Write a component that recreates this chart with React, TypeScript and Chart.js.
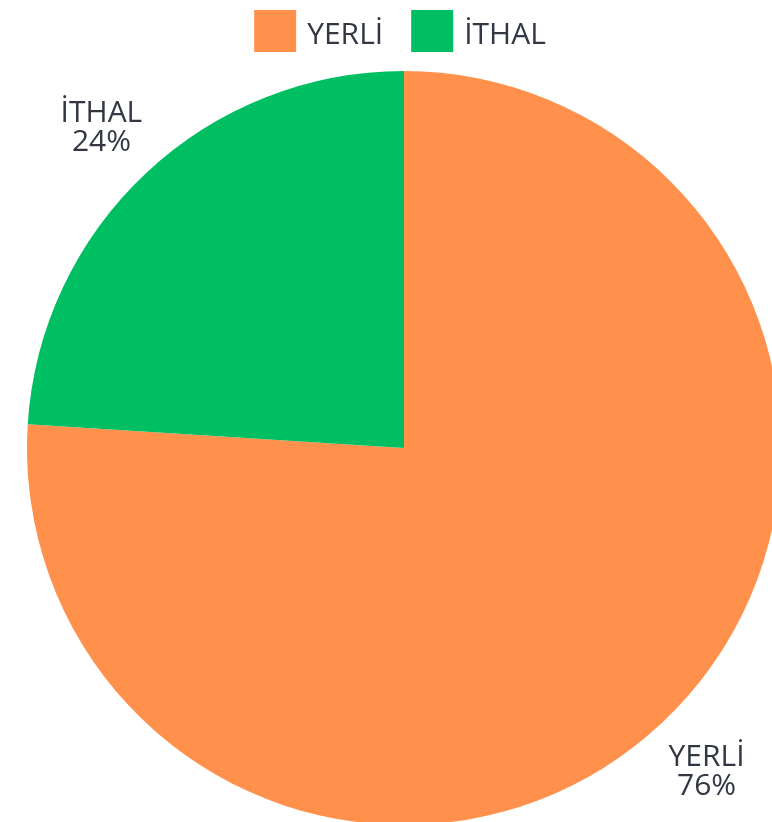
import React, { useEffect, useRef } from "react";
import { Chart, registerables } from "chart.js";

Chart.register(...registerables);

const categories: string[] = ["YERLİ", "İTHAL"];
const shareValues: number[] = [76, 24];
const sliceColors: string[] = ["#FF914D", "#00BF63"];

const TEXT_COLOR = "#323743";
const FONT_FAMILY = "'Open Sans', 'Noto Sans', sans-serif";

const legendPlugin = {
  id: "customLegend",
  afterDraw(chart: any) {
    const ctx = chart.ctx as CanvasRenderingContext2D;
    const fontSize = 30;
    const box = 42;
    const boxGap = 11;
    const itemGap = 28;
    const top = 10;
    ctx.save();
    ctx.font = `${fontSize}px ${FONT_FAMILY}`;
    const widths = categories.map((c) => ctx.measureText(c).width);
    let total = 0;
    widths.forEach((w, i) => {
      total += box + boxGap + w + (i < widths.length - 1 ? itemGap : 0);
    });
    const centerX = (chart.chartArea.left + chart.chartArea.right) / 2 - 4;
    let x = centerX - total / 2;
    categories.forEach((c, i) => {
      ctx.fillStyle = sliceColors[i];
      ctx.fillRect(x, top, box, box);
      ctx.fillStyle = TEXT_COLOR;
      ctx.textAlign = "left";
      ctx.textBaseline = "alphabetic";
      ctx.fillText(c, x + box + boxGap, top + 34.3);
      x += box + boxGap + widths[i] + itemGap;
    });
    ctx.restore();
  },
};

const labelPlugin = {
  id: "sliceLabels",
  afterDatasetsDraw(chart: any) {
    const ctx = chart.ctx as CanvasRenderingContext2D;
    const meta = chart.getDatasetMeta(0);
    const data = chart.data.datasets[0].data as number[];
    const sum = data.reduce((a, b) => a + b, 0);
    const fontSize = 30;
    const lineHeight = 29.3;
    const cap = 21;
    ctx.save();
    ctx.font = `${fontSize}px ${FONT_FAMILY}`;
    ctx.fillStyle = TEXT_COLOR;
    ctx.textAlign = "center";
    ctx.textBaseline = "alphabetic";
    meta.data.forEach((arc: any, i: number) => {
      const p = arc.getProps(["x", "y", "startAngle", "endAngle", "outerRadius"], true);
      const mid = (p.startAngle + p.endAngle) / 2;
      const dist = p.outerRadius + 65;
      const cx = p.x + Math.cos(mid) * dist;
      const cy = p.y + Math.sin(mid) * dist;
      const block = cap + lineHeight;
      const b1 = cy - block / 2 + cap;
      const pct = Math.round((data[i] / sum) * 100);
      ctx.fillText(String(chart.data.labels[i]), cx, b1);
      ctx.fillText(`${pct}%`, cx, b1 + lineHeight);
    });
    ctx.restore();
  },
};

export default function App() {
  const canvasRef = useRef<HTMLCanvasElement | null>(null);

  useEffect(() => {
    if (!canvasRef.current) return;
    const chart = new Chart(canvasRef.current, {
      type: "pie",
      data: {
        labels: categories,
        datasets: [
          {
            data: shareValues,
            backgroundColor: sliceColors,
            borderWidth: 0,
            radius: 377,
          } as any,
        ],
      },
      options: {
        responsive: false,
        animation: false,
        devicePixelRatio: 1,
        layout: { padding: 0 },
        plugins: {
          legend: { display: false },
          tooltip: { enabled: false },
        },
      },
      plugins: [labelPlugin, legendPlugin],
    });
    return () => chart.destroy();
  }, []);

  return (
    <div
      style={{
        position: "fixed",
        left: 0,
        top: 0,
        width: 772,
        height: 822,
        overflow: "hidden",
        background: "#ffffff",
      }}
    >
      <canvas
        ref={canvasRef}
        width={808}
        height={896}
        style={{ width: 808, height: 896, display: "block" }}
      />
    </div>
  );
}
